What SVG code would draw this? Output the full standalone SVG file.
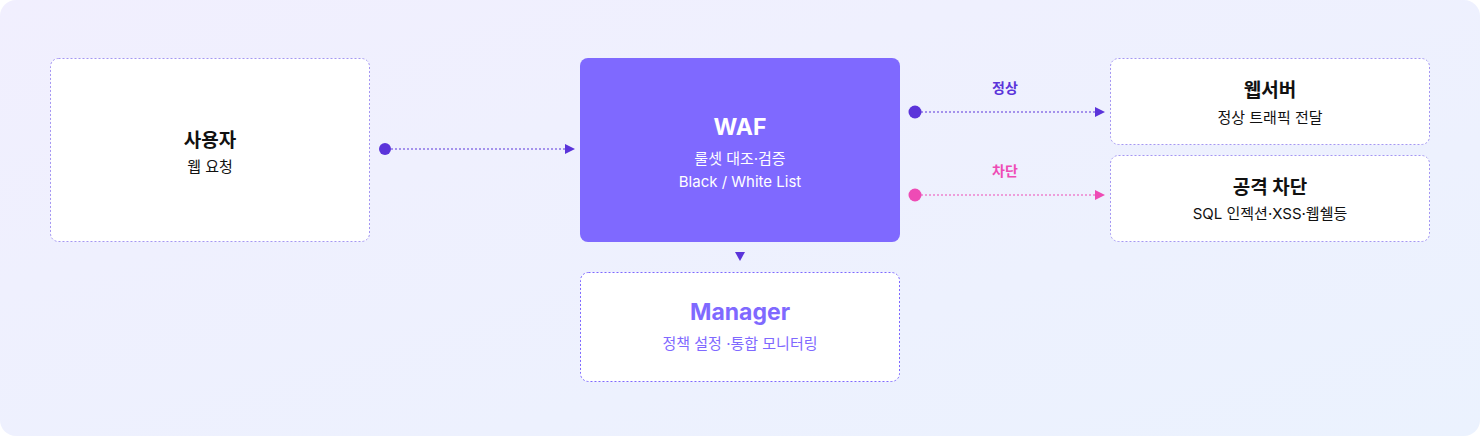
<svg xmlns="http://www.w3.org/2000/svg" width="1480" height="436" viewBox="0 0 1480 436">
<defs>
<linearGradient id="bg" x1="0" y1="0" x2="1" y2="1">
<stop offset="0" stop-color="#F1EFFE"/>
<stop offset="1" stop-color="#EBF2FE"/>
</linearGradient>
<marker id="ap" viewBox="0 0 10 10" refX="9" refY="5" markerWidth="10" markerHeight="10" markerUnits="userSpaceOnUse" orient="auto"><path d="M0,0 L10,5 L0,10 Z" fill="#5B34DA"/></marker>
<marker id="ak" viewBox="0 0 10 10" refX="9" refY="5" markerWidth="10" markerHeight="10" markerUnits="userSpaceOnUse" orient="auto"><path d="M0,0 L10,5 L0,10 Z" fill="#EE4BB5"/></marker>
<style>
text{font-family:Inter,"Noto Sans CJK KR","Noto Sans",sans-serif;text-anchor:middle}
.box{fill:#FFFFFF;stroke:#A597F2;stroke-width:1;stroke-dasharray:2 2}
.t{font-size:19px;font-weight:700;fill:#111111}
.s{font-size:15px;fill:#111111}
.w{fill:#FFFFFF}
.ln{fill:none;stroke-width:1.2;stroke-dasharray:2 2}
</style>
</defs>
<rect x="0" y="0" width="1480" height="436" rx="16" fill="url(#bg)"/>
<g id="connectors">
<circle cx="385" cy="149" r="6" fill="#5B34DA"/>
<line class="ln" x1="391" y1="149" x2="574" y2="149" stroke="#5B34DA" marker-end="url(#ap)"/>
<circle cx="915" cy="112" r="6.5" fill="#5B34DA"/>
<line class="ln" x1="921" y1="112" x2="1104" y2="112" stroke="#5B34DA" marker-end="url(#ap)"/>
<text x="1005" y="93" style="font-size:14px;font-weight:700;fill:#5B34DA">정상</text>
<circle cx="915" cy="195" r="6.5" fill="#EE4BB5"/>
<line class="ln" x1="921" y1="195" x2="1104" y2="195" stroke="#EE4BB5" marker-end="url(#ak)"/>
<text x="1005" y="176" style="font-size:14px;font-weight:700;fill:#EE4BB5">차단</text>
<path d="M735,252 L745,252 L740,261 Z" fill="#5B34DA"/>
</g>
<g id="user">
<rect class="box" x="50.5" y="58.5" width="319" height="183" rx="8"/>
<text class="t" x="210" y="147">사용자</text>
<text class="s" x="210" y="172">웹 요청</text>
</g>
<g id="waf">
<rect x="580" y="58" width="320" height="184" rx="8" fill="#7F69FF"/>
<text class="w" x="740" y="135" style="font-size:23px;font-weight:700">WAF</text>
<text class="s w" x="740" y="164">룰셋 대조·검증</text>
<text class="s w" x="740" y="187">Black / White List</text>
</g>
<g id="webserver">
<rect class="box" x="1110.5" y="58.5" width="319" height="86" rx="8"/>
<text class="t" x="1270" y="97">웹서버</text>
<text class="s" x="1270" y="123">정상 트래픽 전달</text>
</g>
<g id="block">
<rect class="box" x="1110.5" y="155.5" width="319" height="86" rx="8"/>
<text class="t" x="1270" y="194">공격 차단</text>
<text class="s" x="1270" y="219">SQL 인젝션·XSS·웹쉘등</text>
</g>
<g id="manager">
<rect class="box" x="580.5" y="272.5" width="319" height="109" rx="8" style="stroke:#7F69FF"/>
<text x="740" y="320" style="font-size:23px;font-weight:700;fill:#7F69FF">Manager</text>
<text class="s" x="740" y="349" style="fill:#7F69FF">정책 설정 ·통합 모니터링</text>
</g>
</svg>
